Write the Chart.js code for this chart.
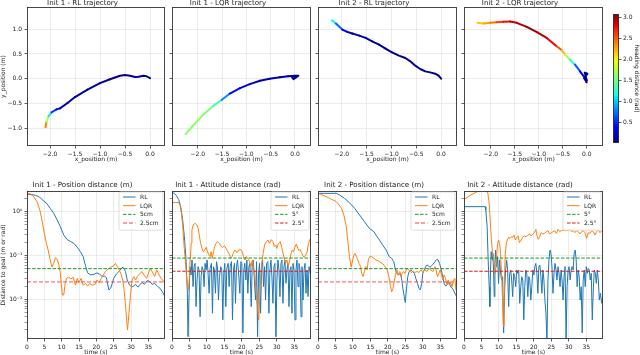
<!DOCTYPE html>
<html><head><meta charset="utf-8">
<script src="https://cdn.jsdelivr.net/npm/chart.js@4.4.1/dist/chart.umd.min.js"></script>
<style>
html,body{margin:0;padding:0;background:#fff;}
body{width:640px;height:355px;position:relative;overflow:hidden;}
canvas{position:absolute;display:block;}
</style></head><body>
<script>
// ================= DATA =================
// Trajectories: [x_position, y_position, heading distance]
const traj1RL = [[-2.09,-0.98,2.7],[-2.07,-0.87,2.1],[-2.03,-0.76,1.4],[-1.97,-0.68,0.8],[-1.87,-0.62,0.35],[-1.80,-0.60,0.15],[-1.65,-0.49,0.08],[-1.50,-0.37,0.07],[-1.25,-0.22,0.07],[-1.0,-0.09,0.06],[-0.8,-0.01,0.05],[-0.6,0.06,0.05],[-0.5,0.075,0.05],[-0.4,0.06,0.05],[-0.3,0.035,0.05],[-0.23,0.04,0.05],[-0.13,0.06,0.05],[-0.07,0.05,0.05],[0.0,0.01,0.05]];
const traj1LQR = [[-2.25,-1.12,1.6],[-2.10,-0.95,1.6],[-1.89,-0.73,1.6],[-1.68,-0.55,1.5],[-1.51,-0.43,1.1],[-1.34,-0.30,0.5],[-1.13,-0.19,0.3],[-0.93,-0.11,0.2],[-0.72,-0.04,0.15],[-0.52,0.0,0.12],[-0.31,0.03,0.1],[-0.14,0.05,0.08],[0.0,0.06,0.05],[0.07,0.06,0.05],[-0.03,-0.01,0.05],[-0.06,0.03,0.05],[0.0,0.05,0.05]];
const traj2RL = [[-2.20,1.18,1.25],[-2.12,1.115,1.0],[-1.99,0.994,0.4],[-1.89,0.947,0.2],[-1.79,0.913,0.12],[-1.65,0.872,0.1],[-1.52,0.825,0.08],[-1.39,0.757,0.07],[-1.25,0.69,0.06],[-1.12,0.609,0.06],[-0.99,0.534,0.05],[-0.85,0.467,0.05],[-0.72,0.419,0.05],[-0.62,0.352,0.05],[-0.52,0.264,0.05],[-0.42,0.196,0.05],[-0.32,0.149,0.05],[-0.22,0.128,0.05],[-0.12,0.101,0.05],[-0.05,0.061,0.05],[0.0,0.0,0.05]];
const traj2LQR = [[-2.28,1.13,2.1],[-2.15,1.116,2.2],[-2.01,1.13,2.35],[-1.88,1.143,2.5],[-1.74,1.15,2.7],[-1.60,1.157,2.85],[-1.46,1.13,2.95],[-1.25,1.049,3.0],[-1.04,0.94,3.0],[-0.835,0.825,2.9],[-0.627,0.656,2.7],[-0.52,0.574,2.4],[-0.452,0.487,2.0],[-0.348,0.385,1.5],[-0.243,0.284,0.9],[-0.139,0.149,0.4],[-0.035,0.014,0.2],[0.0,-0.034,0.1],[-0.04,0.12,0.05],[0.014,0.1,0.05],[-0.056,0.01,0.05],[0.0,-0.07,0.05],[-0.01,-0.02,0.05]];

// Distances to goal: [time (s), distance]
const init1PosRL = [[0,2.49],[1.4,2.45],[2.4,2.36],[3.4,2.2],[4.3,1.91],[5.8,1.5],[6.7,1.19],[7.7,0.92],[8.7,0.645],[9.6,0.455],[10.6,0.293],[11.6,0.23],[12.5,0.21],[13.5,0.189],[14.5,0.154],[15.4,0.122],[16.2,0.094],[16.9,0.057],[17.5,0.04],[18.3,0.036],[19.3,0.037],[20.2,0.04],[21.0,0.037],[21.7,0.033],[22.4,0.034],[22.9,0.031],[23.6,0.0163],[24.1,0.0178],[24.6,0.023],[25.0,0.030],[25.8,0.038],[26.5,0.043],[27.2,0.051],[27.7,0.054],[28.4,0.043],[28.9,0.0275],[29.6,0.021],[30.2,0.019],[30.8,0.020],[31.3,0.022],[32.0,0.019],[32.6,0.022],[33.2,0.024],[33.9,0.022],[34.7,0.027],[35.5,0.025],[36.1,0.022],[36.8,0.023],[37.6,0.020],[38.3,0.018],[39.0,0.015],[39.8,0.0115]];
const init1PosLQR = [[0,2.62],[1,2.53],[1.9,2.2],[2.9,1.69],[3.7,1.09],[4.3,0.645],[5.0,0.32],[5.6,0.189],[6.1,0.133],[6.6,0.086],[7.2,0.054],[7.7,0.066],[8.2,0.089],[8.7,0.082],[9.2,0.061],[9.6,0.039],[9.9,0.023],[10.2,0.0125],[10.6,0.0125],[11.0,0.023],[11.4,0.030],[12.0,0.032],[12.7,0.029],[13.3,0.032],[14.0,0.021],[14.5,0.030],[15.0,0.024],[15.6,0.030],[16.2,0.021],[16.9,0.023],[17.5,0.020],[18.1,0.023],[18.8,0.021],[19.6,0.022],[20.2,0.0275],[20.8,0.024],[21.4,0.030],[22.0,0.036],[22.6,0.043],[23.3,0.048],[24.1,0.054],[24.9,0.057],[25.5,0.066],[26.0,0.057],[26.6,0.047],[27.2,0.036],[27.6,0.0275],[27.9,0.019],[28.3,0.0096],[28.7,0.0037],[29.0,0.002],[29.4,0.0048],[29.9,0.0137],[30.3,0.0275],[30.8,0.033],[31.3,0.0275],[31.8,0.033],[32.6,0.039],[33.2,0.043],[33.7,0.036],[34.5,0.030],[35.2,0.043],[35.6,0.051],[36.1,0.043],[36.8,0.033],[37.4,0.047],[38.1,0.036],[38.7,0.030],[39.5,0.025],[39.8,0.023]];
const init1AttRL = [[0,2.76],[0.67,2.62],[1.34,2.28],[1.91,1.91],[2.49,1.30],[3.06,0.645],[3.54,0.268],[4.02,0.079],[4.40,0.0137],[4.59,0.0014],[4.88,0.0137],[5.17,0.0555],[5.45,0.0358],[5.74,0.079],[6.03,0.0194],[6.32,0.0555],[6.60,0.066],[6.89,0.0068],[7.18,0.0275],[7.46,0.0555],[7.75,0.0466],[8.04,0.0040],[8.33,0.0328],[8.61,0.0555],[8.90,0.0466],[9.19,0.0194],[9.47,0.066],[9.76,0.0466],[10.05,0.079],[10.33,0.0391],[10.62,0.0137],[10.91,0.0508],[11.29,0.066],[11.58,0.0048],[11.87,0.0555],[12.15,0.0466],[12.44,0.0137],[12.73,0.0722],[13.01,0.0555],[13.30,0.0096],[13.59,0.0328],[13.97,0.0555],[14.26,0.0466],[14.55,0.0034],[14.83,0.0391],[15.12,0.066],[15.41,0.0068],[15.69,0.0508],[16.08,0.066],[16.36,0.0194],[16.65,0.0555],[17.03,0.0722],[17.32,0.0034],[17.61,0.0466],[17.89,0.066],[18.18,0.0081],[18.47,0.0555],[18.76,0.079],[19.14,0.0328],[19.43,0.0137],[19.71,0.0722],[20.0,0.066],[20.29,0.0017],[20.57,0.0466],[20.86,0.066],[21.15,0.0275],[21.44,0.079],[21.72,0.0137],[22.01,0.0555],[22.30,0.066],[22.68,0.0068],[22.97,0.066],[23.25,0.079],[23.54,0.0328],[23.92,0.0096],[24.21,0.0722],[24.50,0.0014],[24.78,0.0391],[25.07,0.066],[25.36,0.0048],[25.65,0.0555],[25.93,0.079],[26.22,0.0194],[26.51,0.0555],[26.79,0.0096],[27.08,0.066],[27.46,0.0722],[27.75,0.0048],[28.04,0.0466],[28.33,0.079],[28.61,0.0328],[28.90,0.0081],[29.19,0.0555],[29.47,0.066],[29.76,0.0014],[30.05,0.0275],[30.33,0.079],[30.62,0.0466],[30.91,0.0115],[31.20,0.066],[31.48,0.079],[31.77,0.0081],[32.06,0.0555],[32.34,0.079],[32.63,0.0231],[32.92,0.0466],[33.21,0.066],[33.49,0.0068],[33.78,0.0466],[34.07,0.0555],[34.35,0.0048],[34.64,0.066],[34.93,0.0466],[35.22,0.0034],[35.50,0.0466],[35.79,0.079],[36.08,0.0194],[36.36,0.066],[36.65,0.0466],[36.94,0.0040],[37.22,0.0555],[37.51,0.0096],[37.80,0.0466],[38.09,0.066],[38.37,0.0137],[38.66,0.0466],[38.95,0.0115],[39.23,0.0555],[39.62,0.0391],[39.8,0.079]];
const init1AttLQR = [[0,1.61],[1.1,1.61],[1.9,1.61],[2.3,1.42],[2.7,0.916],[3.1,0.455],[3.4,0.189],[3.8,0.079],[4.1,0.039],[4.4,0.021],[4.7,0.0163],[5.0,0.033],[5.2,0.079],[5.5,0.189],[5.7,0.38],[6.1,0.50],[6.6,0.54],[7.1,0.50],[7.5,0.416],[7.8,0.293],[8.2,0.189],[8.6,0.145],[9.0,0.122],[9.4,0.133],[9.8,0.154],[10.1,0.129],[10.5,0.103],[10.9,0.094],[11.2,0.122],[11.5,0.086],[11.9,0.122],[12.2,0.159],[12.6,0.189],[13.1,0.207],[13.6,0.189],[14.1,0.159],[14.5,0.154],[15.0,0.164],[15.5,0.145],[16.0,0.122],[16.5,0.103],[16.8,0.086],[17.2,0.094],[17.6,0.116],[18.0,0.133],[18.6,0.116],[19.1,0.133],[19.7,0.137],[20.1,0.122],[20.5,0.094],[20.9,0.079],[21.2,0.094],[21.7,0.086],[22.2,0.072],[22.6,0.0555],[23.0,0.079],[23.3,0.0555],[23.7,0.033],[24.1,0.0137],[24.5,0.0068],[24.8,0.0034],[25.1,0.0096],[25.4,0.033],[25.7,0.066],[26.1,0.111],[26.5,0.174],[27.0,0.207],[27.5,0.225],[27.9,0.189],[28.4,0.23],[28.9,0.207],[29.3,0.159],[29.7,0.174],[30.0,0.145],[30.5,0.189],[31.0,0.207],[31.4,0.154],[31.8,0.111],[32.2,0.079],[32.5,0.066],[32.9,0.079],[33.3,0.0555],[33.7,0.079],[34.1,0.111],[34.4,0.133],[34.8,0.122],[35.2,0.154],[35.6,0.183],[36.0,0.145],[36.4,0.129],[36.7,0.137],[37.1,0.116],[37.5,0.097],[37.9,0.091],[38.3,0.103],[38.7,0.122],[39.0,0.174],[39.4,0.23],[39.8,0.24]];
const init2PosRL = [[0,2.62],[1.9,2.62],[5.2,2.62],[6.2,2.40],[7.6,2.0],[9.0,1.6],[10.5,1.19],[11.9,0.84],[13.3,0.59],[14.7,0.416],[16.0,0.35],[16.6,0.293],[17.6,0.225],[18.5,0.174],[19.5,0.133],[20.4,0.094],[21.1,0.086],[21.7,0.072],[22.1,0.051],[22.5,0.039],[23.0,0.036],[23.6,0.039],[24.0,0.0275],[24.3,0.0178],[24.7,0.0115],[25.0,0.0084],[25.3,0.0163],[25.7,0.033],[26.1,0.043],[26.6,0.047],[27.1,0.043],[27.6,0.039],[28.0,0.030],[28.5,0.023],[28.9,0.0178],[29.3,0.0163],[29.7,0.023],[30.0,0.039],[30.6,0.051],[31.2,0.061],[31.7,0.057],[32.1,0.054],[32.8,0.061],[33.5,0.072],[34.0,0.081],[34.4,0.079],[34.8,0.066],[35.2,0.051],[35.6,0.036],[36.1,0.023],[36.6,0.020],[37.1,0.022],[37.5,0.025],[38.0,0.019],[38.5,0.0178],[39.0,0.0149],[39.4,0.0126],[39.8,0.0115]];
const init2PosLQR = [[0,2.62],[1.0,2.45],[1.9,2.28],[2.9,2.09],[3.8,1.91],[4.8,1.78],[5.7,1.55],[6.7,1.19],[7.4,0.84],[8.1,0.455],[8.6,0.189],[9.0,0.094],[9.5,0.054],[9.9,0.079],[10.3,0.103],[10.6,0.111],[11.0,0.094],[11.4,0.079],[11.8,0.066],[12.2,0.0555],[12.5,0.039],[12.9,0.033],[13.3,0.043],[13.7,0.0555],[14.1,0.047],[14.4,0.079],[14.8,0.094],[15.4,0.094],[16.0,0.086],[16.6,0.079],[17.3,0.075],[18.1,0.068],[18.6,0.064],[19.2,0.0555],[19.8,0.047],[20.3,0.033],[20.7,0.021],[21.1,0.0149],[21.5,0.0178],[21.9,0.0275],[22.2,0.036],[22.6,0.047],[23.0,0.036],[23.4,0.043],[23.8,0.033],[24.1,0.039],[24.5,0.043],[24.9,0.039],[25.5,0.051],[26.0,0.047],[26.6,0.041],[27.2,0.043],[27.8,0.041],[28.3,0.043],[28.9,0.041],[29.5,0.047],[30.0,0.041],[30.6,0.047],[31.2,0.043],[31.7,0.051],[32.3,0.047],[32.9,0.043],[33.5,0.0555],[33.8,0.047],[34.2,0.033],[34.6,0.039],[35.0,0.047],[35.4,0.036],[35.7,0.0275],[36.1,0.036],[36.5,0.030],[36.9,0.022],[37.3,0.0275],[37.6,0.021],[38.0,0.024],[38.4,0.0194],[38.8,0.0275],[39.2,0.030],[39.5,0.0163],[39.8,0.0178]];
const init2AttRL = [[0,1.30],[6.06,1.30],[6.25,1.09],[6.63,0.455],[6.92,0.079],[7.21,0.0194],[7.40,0.0068],[7.60,0.0466],[7.79,0.122],[8.08,0.079],[8.27,0.111],[8.46,0.0466],[8.65,0.0115],[8.85,0.066],[9.04,0.133],[9.33,0.0555],[9.62,0.094],[9.90,0.0231],[10.19,0.079],[10.48,0.0391],[10.77,0.0275],[11.06,0.0328],[11.35,0.0017],[11.63,0.0163],[11.92,0.0466],[12.21,0.079],[12.5,0.0466],[12.79,0.0068],[13.08,0.0391],[13.37,0.0466],[13.65,0.0275],[13.94,0.0115],[14.23,0.0391],[14.52,0.0328],[14.81,0.0194],[15.10,0.0466],[15.38,0.0391],[15.67,0.0466],[15.96,0.0081],[16.25,0.0194],[16.54,0.0328],[16.83,0.0275],[17.12,0.0034],[17.40,0.0194],[17.69,0.0466],[17.98,0.0391],[18.27,0.0115],[18.56,0.0328],[18.85,0.0275],[19.13,0.0096],[19.42,0.0194],[19.71,0.0466],[20.0,0.0358],[20.29,0.0555],[20.58,0.066],[20.87,0.0391],[21.15,0.0137],[21.44,0.0555],[21.73,0.0606],[22.02,0.0328],[22.31,0.0137],[22.6,0.0466],[22.88,0.0275],[23.17,0.0096],[23.46,0.0048],[23.75,0.00117],[24.04,0.0275],[24.33,0.079],[24.62,0.133],[24.9,0.111],[25.19,0.0555],[25.48,0.0137],[25.77,0.0391],[26.06,0.066],[26.35,0.0466],[26.63,0.0275],[26.92,0.0555],[27.21,0.0391],[27.5,0.0194],[27.79,0.0466],[28.08,0.0275],[28.37,0.0096],[28.65,0.0328],[28.94,0.0555],[29.23,0.00117],[29.52,0.0194],[29.81,0.0466],[30.1,0.0555],[30.38,0.0275],[30.67,0.0466],[30.96,0.0555],[31.25,0.0466],[31.54,0.111],[31.83,0.133],[32.12,0.079],[32.40,0.0194],[32.69,0.0466],[32.98,0.0328],[33.27,0.0096],[33.56,0.0194],[33.85,0.0017],[34.13,0.0275],[34.42,0.0466],[34.71,0.0194],[35.0,0.0555],[35.29,0.0391],[35.58,0.0508],[35.87,0.0466],[36.15,0.0275],[36.44,0.0391],[36.73,0.0034],[37.02,0.0163],[37.31,0.0466],[37.6,0.0391],[37.88,0.0231],[38.17,0.0466],[38.46,0.0275],[38.75,0.0096],[39.04,0.0137],[39.42,0.0081],[39.8,0.0115]];
const init2AttLQR = [[0,1.91],[0.96,2.12],[1.92,2.40],[2.88,2.62],[3.85,2.86],[4.81,3.07],[5.77,3.12],[6.44,3.02],[6.83,2.62],[7.21,1.55],[7.5,0.645],[7.79,0.268],[8.17,0.111],[8.46,0.079],[8.75,0.0555],[9.04,0.0391],[9.33,0.094],[9.62,0.189],[9.9,0.225],[10.19,0.189],[10.48,0.111],[10.77,0.0328],[11.06,0.0096],[11.25,0.0024],[11.44,0.0057],[11.63,0.0391],[11.83,0.111],[12.12,0.189],[12.4,0.225],[12.79,0.26],[13.17,0.246],[13.56,0.268],[13.94,0.26],[14.33,0.293],[14.71,0.225],[15.1,0.26],[15.48,0.278],[15.87,0.196],[16.35,0.225],[16.83,0.26],[17.31,0.278],[17.79,0.268],[18.27,0.288],[18.75,0.309],[19.23,0.278],[19.71,0.309],[20.19,0.331],[20.58,0.395],[20.87,0.293],[21.25,0.233],[21.63,0.26],[22.12,0.331],[22.6,0.309],[23.08,0.320],[23.56,0.349],[24.04,0.368],[24.52,0.309],[25.0,0.331],[25.48,0.349],[25.96,0.368],[26.44,0.320],[26.92,0.395],[27.4,0.349],[27.88,0.368],[28.37,0.381],[28.85,0.368],[29.33,0.381],[29.81,0.368],[30.29,0.395],[30.77,0.349],[31.25,0.368],[31.73,0.331],[32.21,0.368],[32.69,0.349],[33.17,0.309],[33.65,0.349],[34.13,0.368],[34.62,0.331],[35.1,0.246],[35.58,0.331],[36.06,0.320],[36.54,0.368],[37.02,0.349],[37.5,0.293],[37.98,0.349],[38.46,0.381],[38.94,0.331],[39.42,0.368],[39.8,0.349]];

// Thresholds and labels
const posThresholds = [0.05, 0.025];
const posThresholdLabels = ['5cm', '2.5cm'];
const attThresholds = [0.0873, 0.0436];
const attThresholdLabels = ['5°', '2.5°'];
const seriesLabels = ['RL', 'LQR'];

// Titles
const trajTitles = ['Init 1 - RL trajectory', 'Init 1 - LQR trajectory', 'Init 2 - RL trajectory', 'Init 2 - LQR trajectory'];
const distTitles = ['Init 1 - Position distance (m)', 'Init 1 - Attitude distance (rad)', 'Init 2 - Position distance (m)', 'Init 2 - Attitude distance (rad)'];

// Axis ranges and ticks
const trajXRanges = [[-2.46, 0.30], [-2.53, 0.33], [-2.48, 0.32], [-2.56, 0.34]];
const trajYRange = [-1.36, 1.45];
const trajXTicks = [-2.0, -1.5, -1.0, -0.5, 0.0];
const trajYTicks = [-1.0, -0.5, 0.0, 0.5, 1.0];
const timeRange = [0, 39.8];
const timeTicks = [0, 5, 10, 15, 20, 25, 30, 35];
const logRange = [0.00124, 2.96];
const logMajorTicks = [0.01, 0.1, 1];
const cbarRange = [0, 3.08];
const cbarTicks = [0.5, 1.0, 1.5, 2.0, 2.5, 3.0];

// ================= RENDERING =================
const FONT = "'DejaVu Sans', sans-serif";
const FS = 6;
Chart.defaults.font.family = FONT;
Chart.defaults.font.size = FS;
Chart.defaults.color = '#1a1a1a';
Chart.defaults.animation = false;

const GRID = '#e6e6e6';
const TICKC = '#333';
const C_RL = '#1f77b4', C_LQR = '#ff7f0e';

function jet(v) {
  v = Math.max(0, Math.min(1, v));
  const seg = pts => { for (let i = 1; i < pts.length; i++) { if (v <= pts[i][0]) { const [x0, y0] = pts[i-1], [x1, y1] = pts[i]; return y0 + (y1 - y0) * (v - x0) / (x1 - x0); } } return pts[pts.length-1][1]; };
  const r = seg([[0,0],[0.35,0],[0.66,1],[0.89,1],[1,0.5]]);
  const g = seg([[0,0],[0.125,0],[0.375,1],[0.64,1],[0.91,0],[1,0]]);
  const b = seg([[0,0.5],[0.11,1],[0.34,1],[0.65,0],[1,0]]);
  return `rgb(${Math.round(r*255)},${Math.round(g*255)},${Math.round(b*255)})`;
}

const framePlugin = {
  id: 'frame',
  afterDraw(chart) {
    const a = chart.chartArea, c = chart.ctx;
    c.save();
    c.strokeStyle = '#333'; c.lineWidth = 0.9;
    c.strokeRect(a.left + 0.5, a.top + 0.5, a.right - a.left - 1, a.bottom - a.top - 1);
    c.restore();
  }
};
const insideLegend = {
  id: 'insideLegend',
  afterDraw(chart, args, opts) {
    if (!opts || !opts.show) return;
    const a = chart.chartArea, c = chart.ctx;
    const items = chart.data.datasets.filter(d => d.label);
    const rowH = 8.67, W = opts.width, H = items.length * rowH + 3.5;
    const x0 = a.right - 2 - W, y0 = a.top + 1;
    c.save();
    c.beginPath();
    const r = 1.5;
    c.moveTo(x0 + r, y0); c.lineTo(x0 + W - r, y0); c.quadraticCurveTo(x0 + W, y0, x0 + W, y0 + r);
    c.lineTo(x0 + W, y0 + H - r); c.quadraticCurveTo(x0 + W, y0 + H, x0 + W - r, y0 + H);
    c.lineTo(x0 + r, y0 + H); c.quadraticCurveTo(x0, y0 + H, x0, y0 + H - r);
    c.lineTo(x0, y0 + r); c.quadraticCurveTo(x0, y0, x0 + r, y0); c.closePath();
    c.fillStyle = 'rgba(255,255,255,0.8)'; c.fill();
    c.strokeStyle = '#d4d4d4'; c.lineWidth = 0.8; c.stroke();
    items.forEach((d, i) => {
      const y = y0 + 5 + i * rowH;
      c.beginPath();
      c.strokeStyle = d.borderColor; c.lineWidth = d.borderWidth;
      c.setLineDash(d.borderDash || []);
      c.moveTo(x0 + 4, y); c.lineTo(x0 + 16.5, y); c.stroke();
      c.setLineDash([]);
      c.fillStyle = '#1a1a1a'; c.font = `${FS}px ${FONT}`; c.textBaseline = 'middle'; c.textAlign = 'left';
      c.fillText(d.label, x0 + 21, y + 0.3);
    });
    c.restore();
  }
};
Chart.register(framePlugin, insideLegend);

const Y_AXIS_W = 27, X_AXIS_H = 17, PAD_R = 3;
const colL = [27, 172, 318, 464], colR = [165, 311, 457, 603];
const rowTop = {t: 7, b: 146, titleH: 8, titlePadB: 0};
const rowBot = {t: 191, b: 339, titleH: 10, titlePadB: 2};

function addCanvas(left, top, width, height) {
  const cv = document.createElement('canvas');
  cv.width = width; cv.height = height;
  cv.style.left = left + 'px'; cv.style.top = top + 'px';
  cv.style.width = width + 'px'; cv.style.height = height + 'px';
  document.body.appendChild(cv);
  return cv;
}
function panel(area, titleH, cfg) {
  const cv = addCanvas(area.l - Y_AXIS_W, area.t - titleH, area.r - area.l + Y_AXIS_W + PAD_R, area.b - area.t + titleH + X_AXIS_H);
  cfg.options.responsive = false;
  cfg.options.devicePixelRatio = 1;
  cfg.options.layout = {padding: {left: 0, right: PAD_R, top: 0, bottom: 0}};
  return new Chart(cv, cfg);
}
const fmt1 = v => (Math.abs(v) < 1e-9 ? 0 : v).toFixed(1).replace('-', '\u2212');
const SUP = {'-': '\u207B', '0': '\u2070', '1': '\u00B9', '2': '\u00B2', '3': '\u00B3'};
const isMajorLog = v => Math.abs(Math.log10(v) - Math.round(Math.log10(v))) < 1e-6;
const fmtPow = v => '10' + String(Math.round(Math.log10(v))).split('').map(ch => SUP[ch]).join('');
const logTicks = [];
for (let e = -3; e <= 0; e++) for (let k = 1; k <= 9; k++) { const v = k * Math.pow(10, e); if (v >= logRange[0] && v <= logRange[1]) logTicks.push(+v.toPrecision(3)); }

function titleOpts(text, padB) {
  return {display: true, text, color: '#1a1a1a', font: {size: 7.1, weight: 'normal', lineHeight: '8px'}, padding: {top: 0, bottom: padB}};
}
function xAxis(min, max, ticks, fmt, titleText) {
  return {
    type: 'linear', min, max, bounds: 'data',
    afterBuildTicks: s => { s.ticks = ticks.map(v => ({value: v})); },
    ticks: {callback: v => fmt(v), padding: 2.2, maxRotation: 0, autoSkip: false, font: {size: FS}},
    grid: {color: GRID, lineWidth: 0.8, tickColor: TICKC, tickLength: 2.5, tickWidth: 0.8},
    border: {display: false},
    title: {display: true, text: titleText, padding: 0, font: {size: FS}},
    afterFit: s => { s.height = X_AXIS_H; }
  };
}

// ---- top row: trajectories ----
const trajs = [traj1RL, traj1LQR, traj2RL, traj2LQR];
trajs.forEach((traj, i) => {
  const area = {l: colL[i], r: colR[i], t: rowTop.t, b: rowTop.b};
  const pts = traj.map(p => ({x: p[0], y: p[1]}));
  const heads = traj.map(p => p[2]);
  panel(area, rowTop.titleH, {
    type: 'scatter',
    data: {datasets: [{
      data: pts, showLine: true, borderWidth: 2, pointRadius: 0,
      borderCapStyle: 'round', borderJoinStyle: 'round',
      borderColor: jet(heads[0] / cbarRange[1]),
      segment: {borderColor: c => jet(((heads[c.p0DataIndex] + heads[c.p1DataIndex]) / 2) / cbarRange[1])}
    }]},
    options: {
      plugins: {legend: {display: false}, tooltip: {enabled: false}, title: titleOpts(trajTitles[i], rowTop.titlePadB), insideLegend: {show: false}},
      scales: {
        x: xAxis(trajXRanges[i][0], trajXRanges[i][1], trajXTicks, fmt1, 'x_position (m)'),
        y: {
          type: 'linear', min: trajYRange[0], max: trajYRange[1], bounds: 'data',
          afterBuildTicks: s => { s.ticks = trajYTicks.map(v => ({value: v})); },
          ticks: {callback: v => i === 0 ? fmt1(v) : '', padding: 2.5, autoSkip: false, font: {size: FS}},
          grid: {color: GRID, lineWidth: 0.8, tickColor: TICKC, tickLength: 2.5, tickWidth: 0.8},
          border: {display: false},
          title: {display: i === 0, text: 'y_position (m)', padding: 0, font: {size: FS}},
          afterFit: s => { s.width = Y_AXIS_W; }
        }
      }
    }
  });
});

// ---- bottom row: distances ----
const distSets = [
  [init1PosRL, init1PosLQR, posThresholds, posThresholdLabels, true, 44],
  [init1AttRL, init1AttLQR, attThresholds, attThresholdLabels, false, 38],
  [init2PosRL, init2PosLQR, posThresholds, posThresholdLabels, true, 44],
  [init2AttRL, init2AttLQR, attThresholds, attThresholdLabels, false, 38]
];
distSets.forEach(([rl, lqr, thr, thrLab, isPos, legW], i) => {
  const area = {l: colL[i], r: colR[i], t: rowBot.t, b: rowBot.b};
  const toXY = arr => arr.map(([x, y]) => ({x, y}));
  const hline = v => [{x: timeRange[0], y: v}, {x: timeRange[1], y: v}];
  panel(area, rowBot.titleH, {
    type: 'scatter',
    data: {datasets: [
      {label: seriesLabels[0], data: toXY(rl), showLine: true, borderColor: C_RL, borderWidth: 1, pointRadius: 0, order: 4},
      {label: seriesLabels[1], data: toXY(lqr), showLine: true, borderColor: C_LQR, borderWidth: 1, pointRadius: 0, order: 3},
      {label: thrLab[0], data: hline(thr[0]), showLine: true, borderColor: '#1f9a1f', borderWidth: 1, borderDash: [3.5, 1.6], pointRadius: 0, order: 2},
      {label: thrLab[1], data: hline(thr[1]), showLine: true, borderColor: isPos ? 'rgba(255,60,60,0.5)' : '#f01010', borderWidth: isPos ? 1.8 : 1, borderDash: isPos ? [4, 2] : [3.5, 1.6], pointRadius: 0, order: 1}
    ]},
    options: {
      plugins: {legend: {display: false}, tooltip: {enabled: false}, title: titleOpts(distTitles[i], rowBot.titlePadB), insideLegend: {show: true, width: legW}},
      scales: {
        x: xAxis(timeRange[0], timeRange[1], timeTicks, v => String(v), 'time (s)'),
        y: {
          type: 'logarithmic', min: logRange[0], max: logRange[1], bounds: 'data',
          afterBuildTicks: s => { s.ticks = logTicks.map(v => ({value: v, major: isMajorLog(v)})); },
          ticks: {callback: v => (i === 0 && logMajorTicks.some(m => Math.abs(m - v) < 1e-9)) ? fmtPow(v) : '', padding: 2, autoSkip: false, font: {size: FS}},
          grid: {
            color: c => (c.tick && isMajorLog(c.tick.value)) ? GRID : 'rgba(0,0,0,0)',
            lineWidth: 0.8, tickColor: TICKC, tickLength: 2.5,
            tickWidth: c => (c.tick && isMajorLog(c.tick.value)) ? 0.8 : 0.5
          },
          border: {display: false},
          title: {display: i === 0, text: 'Distance to goal (m or rad)', padding: 0, font: {size: FS}},
          afterFit: s => { s.width = Y_AXIS_W; }
        }
      }
    }
  });
});

// ---- colorbar ----
(function () {
  const cv = addCanvas(605, 0, 35, 150);
  new Chart(cv, {
    type: 'bar',
    data: {labels: [''], datasets: [{
      data: [[cbarRange[0], cbarRange[1]]], borderWidth: 0, barPercentage: 1, categoryPercentage: 1,
      backgroundColor: c => {
        const a = c.chart.chartArea; if (!a) return '#00f';
        const g = c.chart.ctx.createLinearGradient(0, a.bottom, 0, a.top);
        for (let k = 0; k <= 40; k++) g.addColorStop(k / 40, jet(k / 40));
        return g;
      }
    }]},
    options: {
      responsive: false, devicePixelRatio: 1,
      layout: {padding: {left: 8, top: 14, bottom: 7, right: 0}},
      plugins: {legend: {display: false}, tooltip: {enabled: false}, insideLegend: {show: false}},
      scales: {
        x: {display: false},
        y: {
          position: 'right', type: 'linear', min: cbarRange[0], max: cbarRange[1], bounds: 'data',
          afterBuildTicks: s => { s.ticks = cbarTicks.map(v => ({value: v})); },
          ticks: {callback: v => v.toFixed(1), padding: 1.5, autoSkip: false, font: {size: FS}},
          grid: {drawOnChartArea: false, drawTicks: true, tickLength: 2.5, tickColor: TICKC, tickWidth: 0.8},
          border: {display: false},
          title: {display: true, text: 'heading distance (rad)', padding: 0, font: {size: FS}},
          afterFit: s => { s.width = 21; }
        }
      }
    }
  });
})();
</script>
</body></html>
